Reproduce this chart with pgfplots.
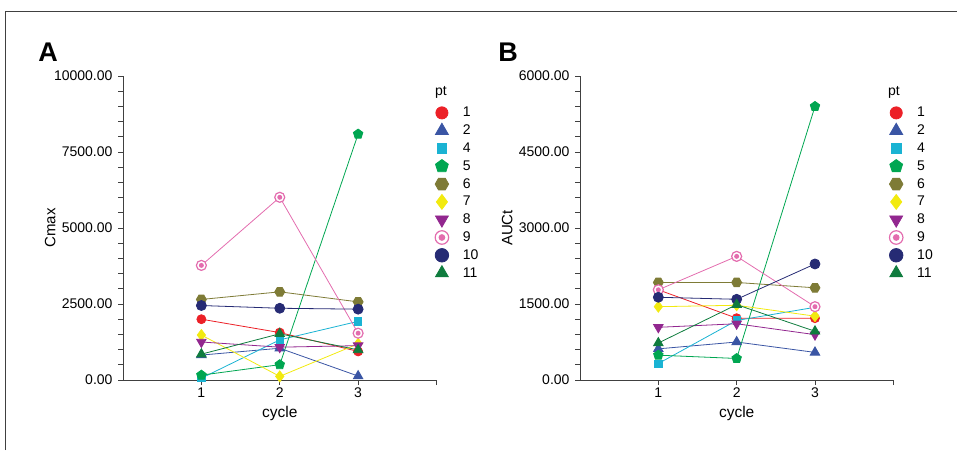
\documentclass[border=0pt]{standalone}
\usepackage{fontspec}
\setmainfont{Liberation Sans}
\usepackage{pgfplots}
\pgfplotsset{compat=1.18}
\usetikzlibrary{plotmarks}
\definecolor{c1}{HTML}{EC2027}
\definecolor{c2}{HTML}{3A55A4}
\definecolor{c4}{HTML}{1AB3D3}
\definecolor{c5}{HTML}{00A651}
\definecolor{c6}{HTML}{7E7B36}
\definecolor{c7}{HTML}{F2EA0F}
\definecolor{c8}{HTML}{92278F}
\definecolor{c9}{HTML}{E36CAE}
\definecolor{c10}{HTML}{262B74}
\definecolor{c11}{HTML}{0F7C3E}
\pgfdeclareplotmark{hexagon*}{%
  \pgfpathmoveto{\pgfqpointpolar{0}{\pgfplotmarksize}}%
  \pgfpathlineto{\pgfqpointpolar{60}{\pgfplotmarksize}}%
  \pgfpathlineto{\pgfqpointpolar{120}{\pgfplotmarksize}}%
  \pgfpathlineto{\pgfqpointpolar{180}{\pgfplotmarksize}}%
  \pgfpathlineto{\pgfqpointpolar{240}{\pgfplotmarksize}}%
  \pgfpathlineto{\pgfqpointpolar{300}{\pgfplotmarksize}}%
  \pgfpathclose\pgfusepathqfillstroke}
\pgfdeclareplotmark{dcirc}{%
  \pgfsetfillcolor{white}%
  \pgfpathcircle{\pgfpointorigin}{\pgfplotmarksize}\pgfusepathqfillstroke
  \pgfsetfillcolor{c9}%
  \pgfpathcircle{\pgfpointorigin}{0.5\pgfplotmarksize}\pgfusepathqfill}
\pgfplotsset{
  s1/.style={color=c1, mark=*, mark size=4.5pt, mark options={solid}},
  s2/.style={color=c2, mark=triangle*, mark size=5.5pt, mark options={solid}},
  s4/.style={color=c4, mark=square*, mark size=3.6pt, mark options={solid}},
  s5/.style={color=c5, mark=pentagon*, mark size=5pt, mark options={solid}},
  s6/.style={color=c6, mark=hexagon*, mark size=5pt, mark options={solid}},
  s7/.style={color=c7, mark=diamond*, mark size=5.5pt, mark options={solid}},
  s8/.style={color=c8, mark=triangle*, mark size=5.5pt, mark options={solid,rotate=180}},
  s9/.style={color=c9, mark=dcirc, mark size=5pt, mark options={solid,line width=1.2pt}},
  s10/.style={color=c10, mark=*, mark size=5pt, mark options={solid}},
  s11/.style={color=c11, mark=triangle*, mark size=5.5pt, mark options={solid}},
  common/.style={
    scale only axis, anchor=south west,
    xmin=0, xmax=4, ymin=0,
    axis lines*=left, tick align=outside,
    major tick length=5pt, minor tick length=5pt,
    axis line style={draw=black!75, line width=1pt},
    every tick/.style={black!75, line width=0.8pt},
    xtick={1,2,3,4}, xticklabels={1,2,3,{}},
    minor y tick num=4,
    scaled y ticks=false,
    yticklabel style={/pgf/number format/fixed, /pgf/number format/fixed zerofill,
      /pgf/number format/precision=2, /pgf/number format/1000 sep={},
      /pgf/number format/assume math mode=true, xshift=-2pt},
    xticklabel style={yshift=1pt},
    tick label style={font=\fontsize{14}{16}\selectfont},
    xlabel={cycle},
    every axis x label/.style={at={(axis description cs:0.5,-0.109)}, anchor=center,
      font=\fontsize{15.5}{18}\selectfont},
    every axis y label/.style={at={(axis description cs:-0.232,0.5)}, anchor=center, rotate=90,
      font=\fontsize{15}{18}\selectfont},
    legend cell align=left,
    legend style={draw=none, fill=none, inner sep=0pt, row sep=0pt, column sep=14pt,
      font=\fontsize{14}{16}\selectfont, nodes={inner sep=0pt}},
    legend image code/.code={\path[draw=none,fill=none] (-7pt,-8.9pt) rectangle (7pt,8.9pt);
      \draw[##1, only marks, every mark/.append style={scale=1.35}] plot coordinates {(0pt,0pt)};},
    clip=false,
    every axis plot/.append style={line width=0.8pt},
  }
}
\begin{document}
\begin{tikzpicture}
\useasboundingbox (0pt,0pt) rectangle (957pt,450pt);
\draw[black!75, line width=1pt] (5pt,0pt) -- (5pt,438pt) -- (957pt,438pt);
\node[font=\fontsize{27}{30}\selectfont\bfseries] at (48pt,398pt) {A};
\node[font=\fontsize{27}{30}\selectfont\bfseries] at (508pt,398pt) {B};
\begin{axis}[common, at={(123pt,70pt)}, width=313.5pt, height=304pt,
  ymax=10000, ytick={0,2500,5000,7500,10000}, ylabel={Cmax},
  legend style={at={(axis description cs:0.9943,0.9086)}, anchor=north west}]
\addplot[s1] coordinates {(1,2000) (2,1560) (3,940)}; \addlegendentry{1}
\addplot[s2] coordinates {(1,820) (2,1045) (3,130)}; \addlegendentry{2}
\addplot[s4] coordinates {(1,60) (2,1320) (3,1930)}; \addlegendentry{4}
\addplot[s5] coordinates {(1,160) (2,505) (3,8090)}; \addlegendentry{5}
\addplot[s6] coordinates {(1,2650) (2,2900) (3,2570)}; \addlegendentry{6}
\addplot[s7] coordinates {(1,1480) (2,120) (3,1190)}; \addlegendentry{7}
\addplot[s8] coordinates {(1,1250) (2,1080) (3,1130)}; \addlegendentry{8}
\addplot[s9] coordinates {(1,3770) (2,6010) (3,1540)}; \addlegendentry{9}
\addplot[s10] coordinates {(1,2450) (2,2360) (3,2330)}; \addlegendentry{10}
\addplot[s11] coordinates {(1,850) (2,1520) (3,990)}; \addlegendentry{11}
\node[font=\fontsize{14}{16}\selectfont] at (axis description cs:1.0144,0.947) {pt};
\end{axis}
\begin{axis}[common, at={(580pt,70pt)}, width=313.3pt, height=304pt,
  ymax=6000, ytick={0,1500,3000,4500,6000}, ylabel={AUCt},
  legend style={at={(axis description cs:0.9863,0.9086)}, anchor=north west}]
\addplot[s1] coordinates {(1,1780) (2,1220) (3,1220)}; \addlegendentry{1}
\addplot[s2] coordinates {(1,615) (2,750) (3,545)}; \addlegendentry{2}
\addplot[s4] coordinates {(1,325) (2,1175) (3,1435)}; \addlegendentry{4}
\addplot[s5] coordinates {(1,490) (2,425) (3,5400)}; \addlegendentry{5}
\addplot[s6] coordinates {(1,1925) (2,1925) (3,1820)}; \addlegendentry{6}
\addplot[s7] coordinates {(1,1447) (2,1475) (3,1260)}; \addlegendentry{7}
\addplot[s8] coordinates {(1,1040) (2,1110) (3,895)}; \addlegendentry{8}
\addplot[s9] coordinates {(1,1780) (2,2440) (3,1447)}; \addlegendentry{9}
\addplot[s10] coordinates {(1,1633) (2,1593) (3,2290)}; \addlegendentry{10}
\addplot[s11] coordinates {(1,730) (2,1487) (3,962)}; \addlegendentry{11}
\node[font=\fontsize{14}{16}\selectfont] at (axis description cs:1.0022,0.947) {pt};
\end{axis}
\end{tikzpicture}
\end{document}
